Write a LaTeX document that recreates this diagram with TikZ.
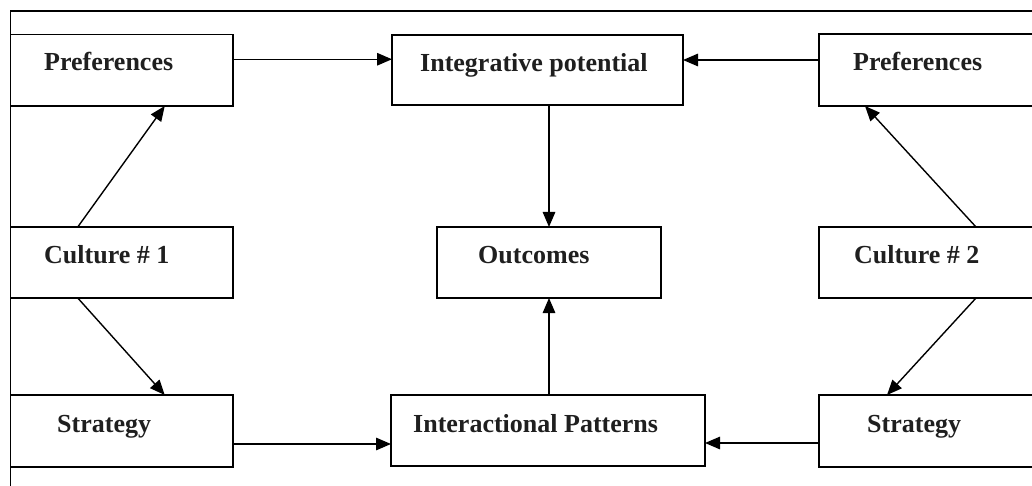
\documentclass[tikz,border=0pt]{standalone}
\usepackage{fontspec}
\setmainfont{Liberation Serif}
\usetikzlibrary{arrows.meta,calc}
\begin{document}
\begin{tikzpicture}[x=1pt,y=-1pt,
  box/.style={draw,line width=1.6pt,rectangle,inner sep=0pt,outer sep=0pt},
  lbl/.style={anchor=base west,inner sep=0pt,font=\fontsize{26}{30}\selectfont\bfseries,text=black!88},
  arr/.style={line width=1.4pt,-{Triangle[length=15pt,width=12.5pt]}},
  frame/.style={line width=1.9pt}]
\useasboundingbox (0,0) rectangle (1032,486);
\clip (0,0) rectangle (1032,486);
\fill[white] (0,0) rectangle (1032,486);

% outer frame (open at right and bottom)
\draw[frame] (1045,11) -- (10.5,11) -- (10.5,495);

% boxes
\node[box,minimum width=222.5pt,minimum height=71.5pt] (prefL) at (121.75,70.25) {};
\node[box,minimum width=291pt,minimum height=70pt] (integ) at (537.5,70) {};
\node[box,minimum width=226pt,minimum height=72pt] (prefR) at (932,70) {};
\node[box,minimum width=222.5pt,minimum height=71pt] (cultL) at (121.75,262.5) {};
\node[box,minimum width=224pt,minimum height=71pt] (outc) at (549,262.5) {};
\node[box,minimum width=226pt,minimum height=71pt] (cultR) at (932,262.5) {};
\node[box,minimum width=222.5pt,minimum height=72pt] (stratL) at (121.75,431) {};
\node[box,minimum width=314pt,minimum height=71pt] (inter) at (548,430.5) {};
\node[box,minimum width=226pt,minimum height=72pt] (stratR) at (932,431) {};

% labels
\node[lbl] (tPrefL) at (44,71) {Preferences};
\node[lbl] (tInteg) at (420,72) {Integrative potential};
\node[lbl] (tPrefR) at (853,71) {Preferences};
\node[lbl] (tCultL) at (44,263) {Culture \# 1};
\node[lbl] (tOutc) at (478,263) {Outcomes};
\node[lbl] (tCultR) at (854,263) {Culture \# 2};
\node[lbl] (tStratL) at (57,432) {Strategy};
\node[lbl] (tInter) at (413,432) {Interactional Patterns};
\node[lbl] (tStratR) at (867,432) {Strategy};

% horizontal connectors
\draw[arr] ([yshift=11pt]prefL.east) -- ([yshift=11pt]prefL.east -| integ.west);
\draw[arr] ([yshift=10pt]prefR.west) -- ([yshift=10pt]prefR.west -| integ.east);
\draw[arr] ([yshift=-13pt]stratL.east) -- ([yshift=-13pt]stratL.east -| inter.west);
\draw[arr] ([yshift=-12pt]stratR.west) -- ([yshift=-12pt]stratR.west -| inter.east);

% vertical connectors into the outcomes box
\draw[arr] (integ.south -| outc.north) -- (outc.north);
\draw[arr] (inter.north -| outc.south) -- (outc.south);

% diagonal connectors from the cultures
\draw[arr] ([xshift=-44pt]cultL.north) -- ([xshift=43pt]prefL.south);
\draw[arr] ([xshift=-44pt]cultL.south) -- ([xshift=43pt]stratL.north);
\draw[arr] ([xshift=44pt]cultR.north) -- ([xshift=-67pt]prefR.south);
\draw[arr] ([xshift=44pt]cultR.south) -- ([xshift=-45pt]stratR.north);
\end{tikzpicture}
\end{document}
